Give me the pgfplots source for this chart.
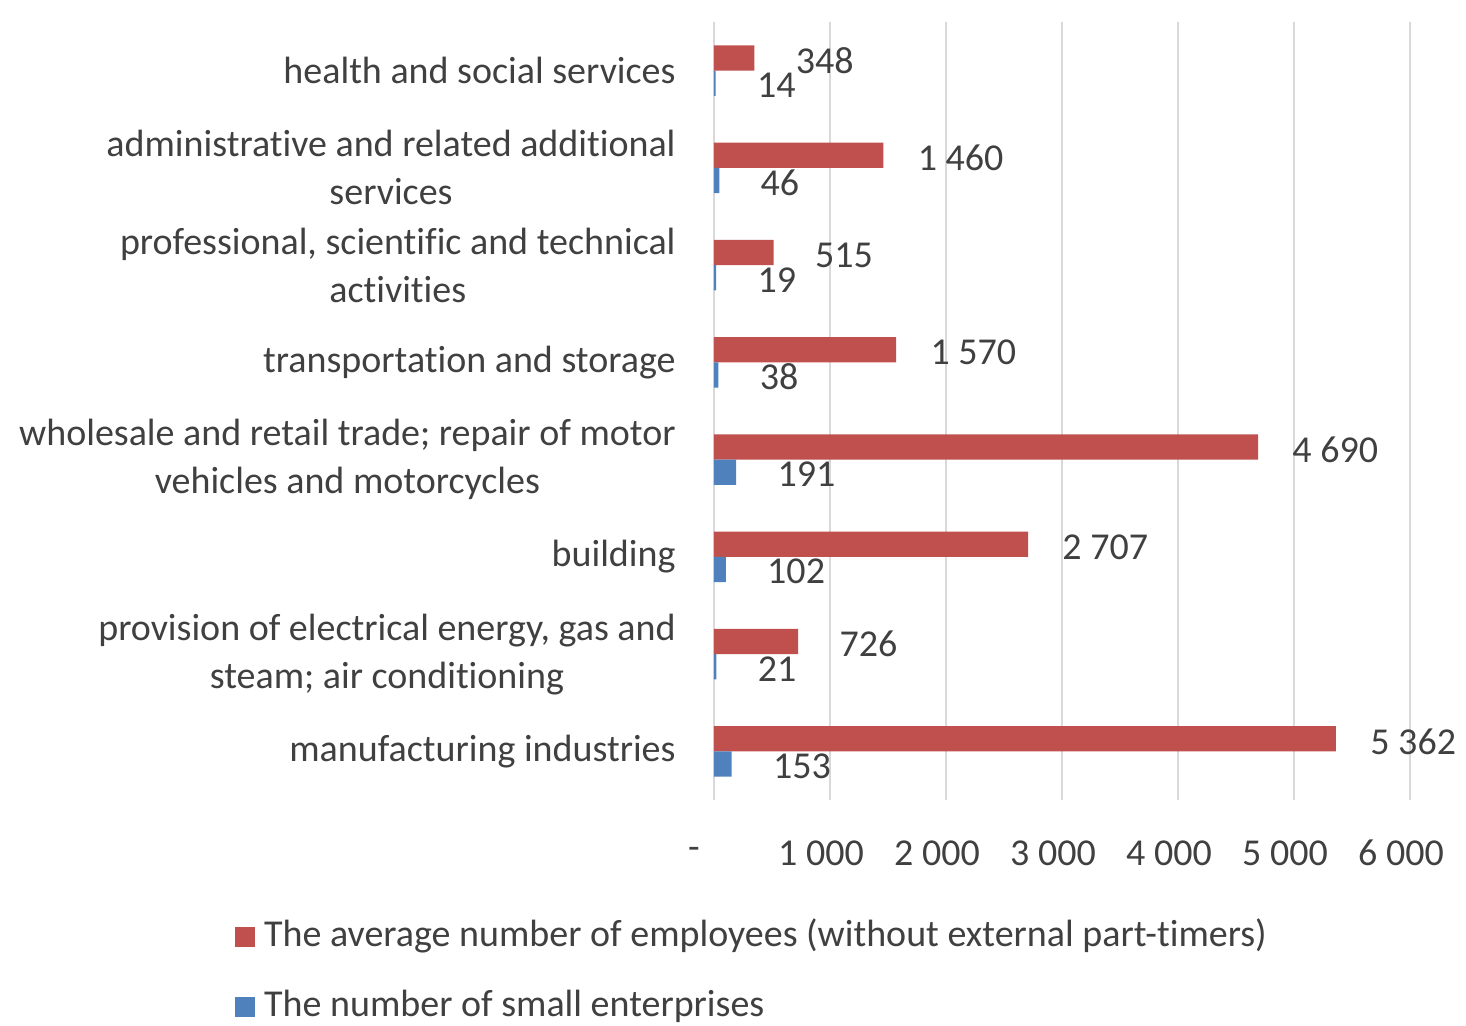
\documentclass[border=0pt]{standalone}
\usepackage{fontspec}
\setmainfont{Carlito}[Ligatures=NoCommon]
\usepackage{pgfplots}
\pgfplotsset{compat=1.18}
\usepackage{pgfplotstable}
\definecolor{exred}{HTML}{C0504D}
\definecolor{exblue}{HTML}{4F81BD}
\definecolor{txt}{HTML}{404040}
\definecolor{gridc}{HTML}{D9D9D9}

% employees, categories with four-digit values
\pgfplotstableread{
y x
0 5362
2 2707
3 4690
4 1570
6 1460
}\empA
% employees, categories with three-digit values
\pgfplotstableread{
y x
1 726
5 515
7 348
}\empB
% small enterprises
\pgfplotstableread{
y x
0 153
1 21
2 102
3 191
4 38
5 19
6 46
7 14
}\ent

\begin{document}
\begin{tikzpicture}[font=\fontsize{19}{24}\selectfont, text=txt]
\useasboundingbox (-357pt,-113pt) rectangle (376pt,400pt);
\begin{axis}[
  at={(0,0)}, anchor=south west, scale only axis,
  width=348pt, height=389pt,
  xmin=0, xmax=6000, ymin=-0.5, ymax=7.5,
  bar width=0.26,
  axis line style={draw=none},
  major tick length=0pt,
  xmajorgrids, grid style={color=gridc, line width=0.6pt},
  xtick={0,1000,...,6000},
  xticklabels={-\hspace*{11pt},1 000,2 000,3 000,4 000,5 000,6 000},
  xticklabel style={anchor=center, yshift=-26.5pt, xshift=-4.5pt, inner sep=0pt, font=\fontsize{19}{24}\selectfont, text=txt},
  ytick={0,...,7},
  yticklabels={manufacturing industries,
    {provision of electrical energy, gas and\\steam; air conditioning},
    building,
    {wholesale and retail trade; repair of motor\\vehicles and motorcycles},
    transportation and storage,
    {professional, scientific and technical\\activities},
    {administrative and related additional\\services},
    health and social services},
  yticklabel style={align=center, anchor=east, inner sep=0pt, xshift=-19pt, font=\fontsize{19}{24}\selectfont, text=txt},
  /pgf/number format/1000 sep={\ },
  /pgf/number format/assume math mode=true,
  every node near coord/.append style={anchor=west, inner sep=0pt, text=txt, font=\fontsize{19}{24}\selectfont},
  legend style={at={(axis description cs:-0.688,-0.1545)}, anchor=north west, draw=none, fill=none,
    inner sep=0pt, outer sep=0pt, row sep=18pt, column sep=4.5pt,
    nodes={inner sep=0pt, text height=13pt, text depth=4pt, text=txt, font=\fontsize{19}{24}\selectfont}},
  legend cell align=left,
  legend image code/.code={\fill[#1, draw=none] (0pt,-5pt) rectangle (10pt,5pt);},
]
\addplot[xbar, fill=exred, draw=none, bar shift=0.13, point meta=x,
  nodes near coords, nodes near coords style={xshift=17pt, yshift=5pt}]
  table[x=x,y=y]{\empA};
\addlegendentry{The average number of employees (without external part-timers)}
\addplot[xbar, fill=exblue, draw=none, bar shift=-0.13, point meta=x,
  nodes near coords, nodes near coords style={xshift=20.5pt, yshift=-7.3pt}]
  table[x=x,y=y]{\ent};
\addlegendentry{The number of small enterprises}
\addplot[xbar, fill=exred, draw=none, bar shift=0.13, point meta=x, forget plot,
  nodes near coords, nodes near coords style={xshift=20.5pt, yshift=5pt}]
  table[x=x,y=y]{\empB};
\end{axis}
\end{tikzpicture}
\end{document}
